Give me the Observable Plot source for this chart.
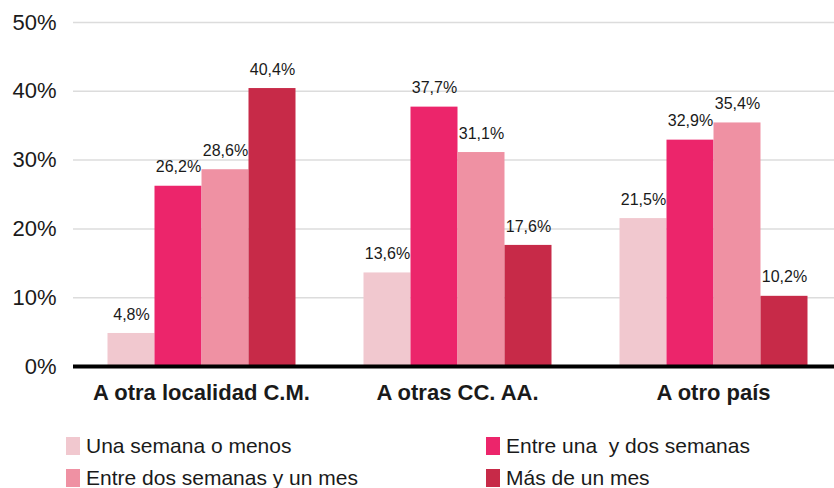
<!DOCTYPE html>
<html><head><meta charset="utf-8">
<script src="https://cdn.jsdelivr.net/npm/d3@7"></script>
<script src="https://cdn.jsdelivr.net/npm/@observablehq/plot@0.6"></script>
<style>
body{margin:0;background:#fff;font-family:"Liberation Sans",Arial,sans-serif;}
#wrap{position:relative;width:834px;height:488px;overflow:hidden}
#wrap svg{display:block}
.item{position:absolute;display:flex;align-items:center;font-size:21px;color:#1a1a1a;white-space:pre;line-height:22px}
.sw{width:14px;height:18px;margin-right:6px}
</style></head><body><div id="wrap"></div>
<script>
const categories = ["A otra localidad C.M.", "A otras CC. AA.", "A otro país"];
const series = ["Una semana o menos", "Entre una  y dos semanas", "Entre dos semanas y un mes", "Más de un mes"];
const colors = ["#f1c8cf", "#ec256b", "#ef91a3", "#c72a48"];
const unaSemana = [4.8, 13.6, 21.5];
const entreUnaYDos = [26.2, 37.7, 32.9];
const entreDosYMes = [28.6, 31.1, 35.4];
const masDeUnMes = [40.4, 17.6, 10.2];
const yTicks = [0, 10, 20, 30, 40, 50];

const vals = [unaSemana, entreUnaYDos, entreDosYMes, masDeUnMes];
const data = [];
categories.forEach((c, i) => series.forEach((s, j) => data.push({cat: c, serie: s, value: vals[j][i]})));
const fmt = v => v.toFixed(1).replace(".", ",") + "%";

const chart = Plot.plot({
  width: 834, height: 425,
  marginTop: 22, marginBottom: 59, marginLeft: 72.5, marginRight: -6.5,
  style: {fontFamily: "Liberation Sans, Arial, sans-serif", color: "#1a1a1a", background: "transparent"},
  fx: {domain: categories, padding: 0, label: null},
  x: {domain: series, paddingInner: 0, paddingOuter: 0.72, axis: null},
  y: {domain: [0, 50], label: null},
  color: {domain: series, range: colors},
  marks: [
    Plot.ruleY(yTicks, {stroke: "#dcdcdc", strokeWidth: 1.5}),
    Plot.barY(data, {fx: "cat", x: "serie", y: "value", fill: "serie"}),
    Plot.ruleY([0], {stroke: "#000", strokeWidth: 4}),
    Plot.text(data, {fx: "cat", x: "serie", y: "value", text: d => fmt(d.value), dy: -19, fontSize: 16, fill: "#1a1a1a"}),
    Plot.axisY(yTicks, {tickSize: 0, tickPadding: 17, fontSize: 22, tickFormat: d => d + "%", label: null}),
    Plot.axisFx({anchor: "bottom", tickSize: 0, tickPadding: 18, fontSize: 22, fontWeight: "bold", label: null})
  ]
});
const wrap = document.getElementById("wrap");
wrap.appendChild(chart);

const pos = [[66, 446], [486, 446], [66, 478], [486, 478]];
series.forEach((s, i) => {
  const it = document.createElement("div");
  it.className = "item";
  it.style.left = pos[i][0] + "px";
  it.style.top = (pos[i][1] - 11) + "px";
  const sw = document.createElement("span");
  sw.className = "sw";
  sw.style.background = colors[i];
  const t = document.createElement("span");
  t.textContent = s;
  it.appendChild(sw); it.appendChild(t);
  wrap.appendChild(it);
});
</script></body></html>
